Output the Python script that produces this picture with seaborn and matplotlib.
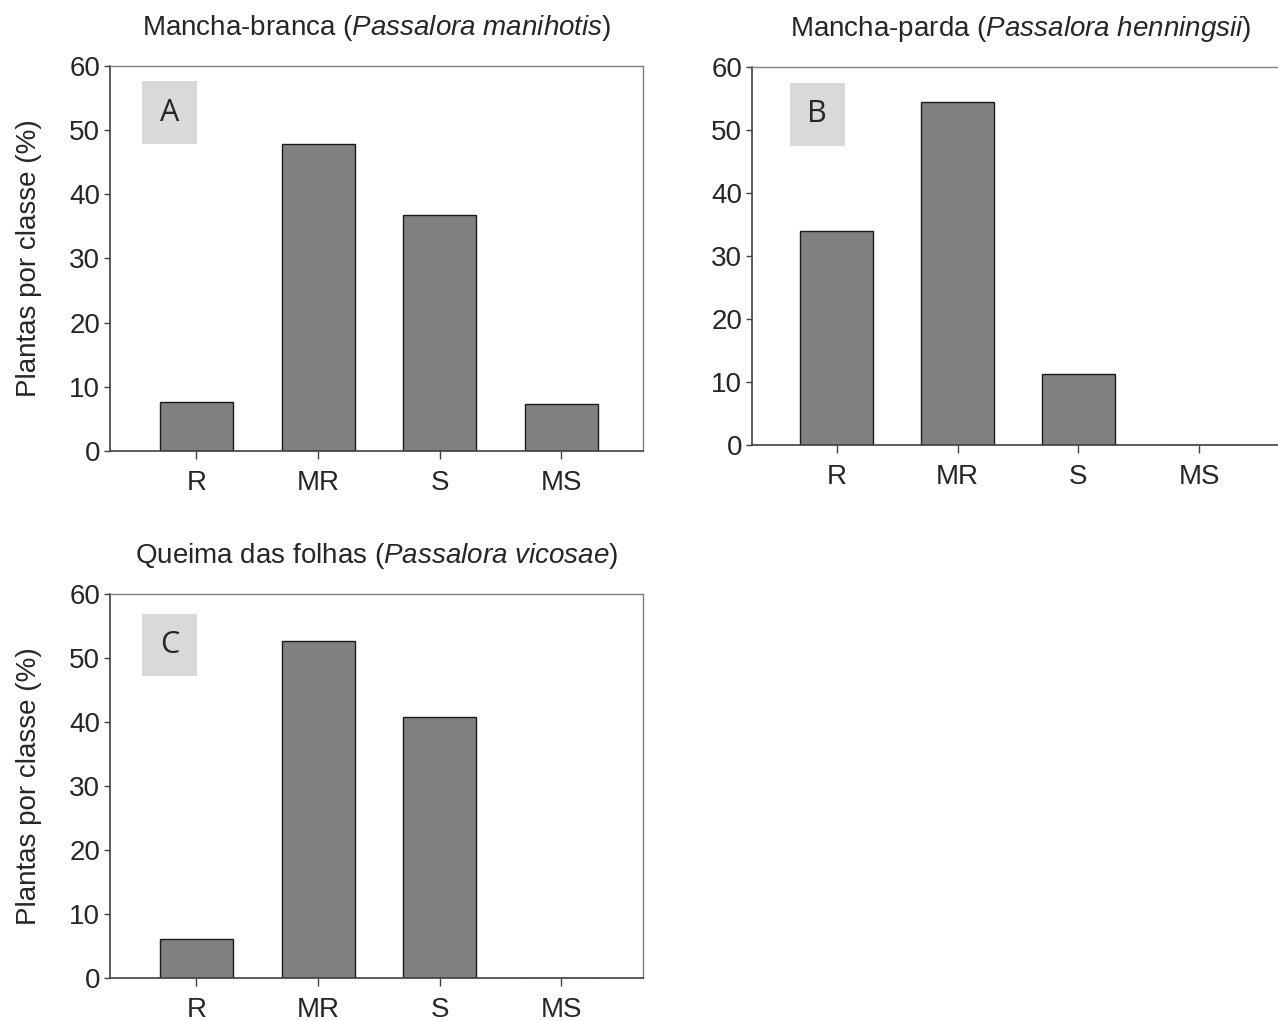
import matplotlib
matplotlib.use('Agg')
import matplotlib.pyplot as plt
import seaborn as sns
import pandas as pd
from matplotlib.patches import Rectangle

# -----------------------------
# Data
# -----------------------------
classes = ["R", "MR", "S", "MS"]
mancha_branca = [7.7, 47.9, 36.8, 7.35]
mancha_parda = [34.0, 54.4, 11.3, 0.0]
queima_folhas = [6.1, 52.7, 40.8, 0.0]

titles = [
    ("Mancha-branca (", "Passalora manihotis", ")"),
    ("Mancha-parda (", "Passalora henningsii", ")"),
    ("Queima das folhas (", "Passalora vicosae", ")"),
]
panel_letters = ["A", "B", "C"]
y_ticks = [0, 10, 20, 30, 40, 50, 60]

sns.set_theme(style="white")
plt.rcParams['font.family'] = ['Liberation Sans', 'DejaVu Sans']
plt.rcParams['mathtext.fontset'] = 'custom'
plt.rcParams['mathtext.rm'] = 'Liberation Sans'
plt.rcParams['mathtext.it'] = 'Liberation Sans:italic'

fig = plt.figure(figsize=(12.78, 10.21), dpi=100)

# axes boxes in pixels: x0, y0 (top), x1, y1 (bottom)
W, H = 1278, 1021
boxes = [
    (110, 66, 643, 451),
    (752, 67, 1290, 445),
    (110, 594, 643, 978),
]
letter_boxes = [
    (0.060, 0.797, 0.103, 0.164),
    (0.070, 0.791, 0.103, 0.167),
    (0.060, 0.787, 0.103, 0.162),
]

series = [mancha_branca, mancha_parda, queima_folhas]

for i, (vals, box) in enumerate(zip(series, boxes)):
    x0, y0, x1, y1 = box
    ax = fig.add_axes([x0 / W, 1 - y1 / H, (x1 - x0) / W, (y1 - y0) / H])
    df = pd.DataFrame({"classe": classes, "pct": vals})
    sns.barplot(data=df, x="classe", y="pct", color="#808080", saturation=1,
                edgecolor="#1a1a1a", linewidth=1.0, width=0.6, ax=ax)
    ax.set_ylim(0, 60)
    if i == 1:
        ax.set_xlim(-0.7, 3.75)
    else:
        ax.set_xlim(-0.71, 3.67)
    ax.set_yticks(y_ticks)
    ax.set_xlabel("")
    if i == 1:
        ax.set_ylabel("")
    else:
        ax.set_ylabel("Plantas por classe (%)", fontsize=20)
        ax.yaxis.set_label_coords(-0.128, 0.5)

    for side in ["left", "bottom"]:
        ax.spines[side].set_color("#404040")
        ax.spines[side].set_linewidth(1.2)
    for side in ["top", "right"]:
        ax.spines[side].set_color("#808080")
        ax.spines[side].set_linewidth(1.0)
    if i == 1:
        ax.spines["right"].set_visible(False)

    ax.tick_params(axis="y", direction="out", length=4, width=1, color="#404040",
                   pad=3, labelsize=20, left=True)
    ax.tick_params(axis="x", direction="out", length=6, width=1, color="#404040",
                   pad=8, labelsize=20, bottom=True)

    # title with italic species name
    pre, ital, post = titles[i]
    ax.set_title(pre + r"$\it{" + ital.replace(" ", r"\ ") + "}$" + post,
                 fontsize=20, pad=22)

    # grey panel letter box
    lx, ly, lw, lh = letter_boxes[i]
    ax.add_patch(Rectangle((lx, ly), lw, lh, transform=ax.transAxes,
                           facecolor="#d9d9d9", edgecolor="none", zorder=3))
    ax.text(lx + lw / 2, ly + lh / 2, panel_letters[i], transform=ax.transAxes,
            ha="center", va="center", fontsize=22, zorder=4,
            family=['Open Sans', 'DejaVu Sans'])

fig.savefig("out.png", dpi=100)
